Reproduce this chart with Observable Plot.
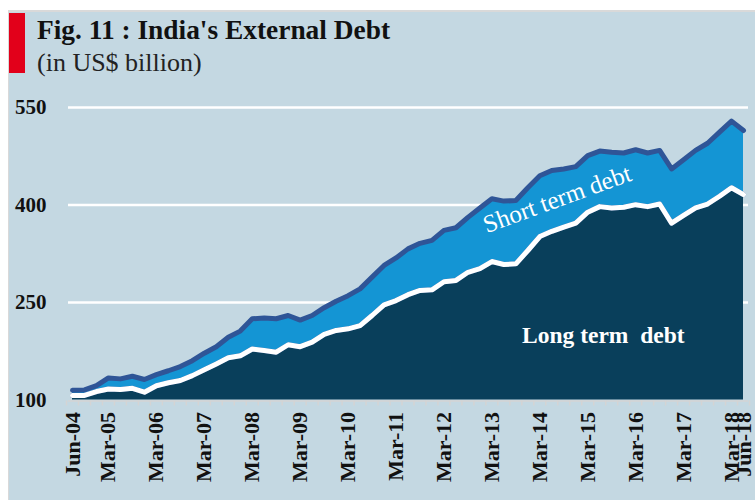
<!DOCTYPE html>
<html><head><meta charset="utf-8">
<script src="https://cdn.jsdelivr.net/npm/d3@7"></script>
<script src="https://cdn.jsdelivr.net/npm/@observablehq/plot@0.6"></script>
<style>
html,body{margin:0;padding:0;background:#fff;}
#page{position:relative;width:755px;height:500px;overflow:hidden;font-family:"Liberation Serif",serif;}
#panel{position:absolute;left:8px;top:10px;width:747px;height:490px;background:#c4d8e2;border-top:2px solid #d9d9d9;border-left:1px solid #d9d9d9;}
#redbar{position:absolute;left:9px;top:13px;width:16px;height:60px;background:#e2001a;}
#title{position:absolute;left:37px;top:17px;font-size:27.4px;line-height:1;font-weight:bold;color:#111;white-space:nowrap;}
#subtitle{position:absolute;left:37px;top:50px;font-size:26px;line-height:1;color:#222;white-space:nowrap;}
#chart{position:absolute;left:0;top:90px;}
</style>
</head><body>
<div id="page">
  <div id="panel"></div>
  <div id="redbar"></div>
  <div id="title">Fig. 11 : India's External Debt</div>
  <div id="subtitle">(in US$ billion)</div>
  <div id="chart"></div>
</div>
<script>
const quarters = ["Jun-04","Sep-04","Dec-04","Mar-05","Jun-05","Sep-05","Dec-05","Mar-06","Jun-06","Sep-06","Dec-06","Mar-07","Jun-07","Sep-07","Dec-07","Mar-08","Jun-08","Sep-08","Dec-08","Mar-09","Jun-09","Sep-09","Dec-09","Mar-10","Jun-10","Sep-10","Dec-10","Mar-11","Jun-11","Sep-11","Dec-11","Mar-12","Jun-12","Sep-12","Dec-12","Mar-13","Jun-13","Sep-13","Dec-13","Mar-14","Jun-14","Sep-14","Dec-14","Mar-15","Jun-15","Sep-15","Dec-15","Mar-16","Jun-16","Sep-16","Dec-16","Mar-17","Jun-17","Sep-17","Dec-17","Mar-18","Jun-18"];
const longTerm = [107,107,113,117,116,118,112,122,126.5,130,137.5,146.5,155.5,165,168,178.5,176,173.5,185,182,189,201,207,209.5,214.5,230,246.5,253,262,268.5,269.5,282,284,296.5,302,313,308.5,309.5,330,351.5,359.5,366,372,389,397.5,395.5,396.5,400.5,397.5,401.5,372,384,395.5,401.5,413.5,426.5,416];
const shortTerm = [8,8.5,9,17,16.5,18.5,19.5,17,18.5,21.5,23,25.5,26.5,31.5,38,46.5,50,51.5,45,41,41,41,45,51,56.5,59,60.5,65.5,70.5,72.5,76,79,81,84.5,93.5,96.5,97.5,97.5,96.5,93.5,93.5,89.5,87,87,85.5,85.5,83.5,84.5,82.5,82.5,83.5,85.5,88.5,93.5,98.5,102.5,98.5];
const seriesNames = ["Long term debt","Short term debt"];
const tickLabels = ["Jun-04","Mar-05","Mar-06","Mar-07","Mar-08","Mar-09","Mar-10","Mar-11","Mar-12","Mar-13","Mar-14","Mar-15","Mar-16","Mar-17","Mar-18","Jun-18"];
const yTicks = [100,250,400,550];
const longLabel = [{i: 44.3, value: 199, text: "Long term\u00a0 debt"}];
const shortLabel = [{i: 40.45, value: 409, text: "Short term debt"}];

const data = [];
quarters.forEach((q, i) => data.push({i, series: seriesNames[0], value: longTerm[i]}));
quarters.forEach((q, i) => data.push({i, series: seriesNames[1], value: shortTerm[i]}));
const longData = data.filter(d => d.series === seriesNames[0]);
const tickIdx = tickLabels.map(t => quarters.indexOf(t));
const boundaries = quarters.map((q, i) => i - 0.5).concat([quarters.length - 0.5]);

const chart = Plot.plot({
  width: 755, height: 410,
  marginTop: 17, marginBottom: 100.5, marginLeft: 68, marginRight: 7,
  style: {background: "transparent", fontFamily: "'Liberation Serif', serif", overflow: "visible", color: "#111"},
  x: {type: "linear", domain: [0, quarters.length - 1], insetLeft: 4, insetRight: 5},
  y: {domain: [100, 550]},
  color: {domain: seriesNames, range: ["#093f5b", "#1495d4"]},
  marks: [
    Plot.ruleY(yTicks.slice(1), {stroke: "#ffffff", strokeWidth: 2.5}),
    Plot.areaY(data, Plot.stackY({x: "i", y: "value", z: "series", fill: "series", order: null, clip: true})),
    Plot.lineY(data, Plot.stackY2({x: "i", y: "value", z: "series", order: null, stroke: "#2f5597", strokeWidth: 5, strokeLinejoin: "round"})),
    Plot.lineY(longData, {x: "i", y: "value", stroke: "#ffffff", strokeWidth: 5, strokeLinejoin: "round"}),
    Plot.ruleY([100], {stroke: "#d4d4d4", strokeWidth: 1.5, dy: 1}),
    Plot.axisX(boundaries, {tickSize: 5, tickFormat: () => "", stroke: "#d4d4d4", strokeWidth: 1.5, label: null, dy: 1}),
    Plot.axisX(tickIdx, {tickSize: 0, tickPadding: 12, tickRotate: -90, tickFormat: i => quarters[i], fontSize: 22, fontWeight: "bold", fill: "#111", label: null}),
    Plot.axisY(yTicks, {tickSize: 0, tickPadding: 22, fontSize: 21, fontWeight: "bold", fill: "#111", label: null, tickFormat: d => String(d)}),
    Plot.text(longLabel, {x: "i", y: "value", text: "text", fill: "#ffffff", fontSize: 23.5, fontWeight: "bold", textAnchor: "middle", lineAnchor: "middle"}),
    Plot.text(shortLabel, {x: "i", y: "value", text: "text", rotate: -20, fill: "#ffffff", fontSize: 25, fontWeight: "normal", textAnchor: "middle", lineAnchor: "middle"})
  ]
});
document.getElementById("chart").appendChild(chart);
</script>
</body></html>
